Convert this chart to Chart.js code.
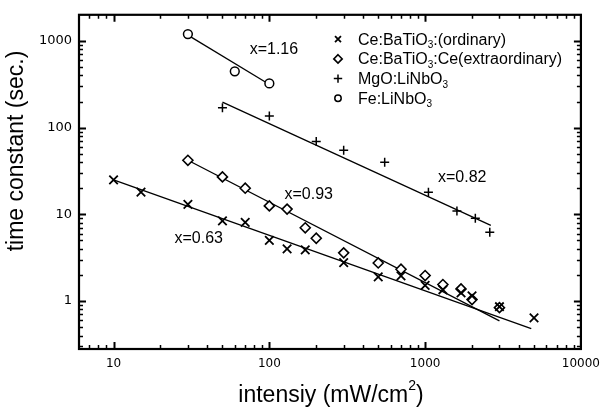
<!DOCTYPE html>
<html><head><meta charset="utf-8">
<script src="https://cdn.jsdelivr.net/npm/chart.js@4.4.0/dist/chart.umd.min.js"></script>
<style>html,body{margin:0;padding:0;background:#fff;}#wrap{width:608px;height:409px;position:relative;}</style>
</head><body><div id="wrap"><canvas id="c"></canvas></div>
<script>
// ---- data ----
const ordinaryX = [10, 15, 30, 50, 70, 100, 130, 170, 300, 500, 700, 1000, 1300, 1700, 2000, 3000, 5000];
const ordinaryY = [25, 18, 13, 8.4, 8.1, 5.0, 4.0, 3.9, 2.77, 1.9, 1.95, 1.52, 1.35, 1.24, 1.15, 0.86, 0.64];
const extraX = [30, 50, 70, 100, 130, 170, 200, 300, 500, 700, 1000, 1300, 1700, 2000, 3000];
const extraY = [42, 27, 20, 12.5, 11.5, 7.0, 5.3, 3.6, 2.75, 2.33, 1.97, 1.55, 1.38, 1.04, 0.84];
const mgoX = [50, 100, 200, 300, 550, 1050, 1600, 2100, 2600];
const mgoY = [169, 136, 69, 55, 40, 18, 10.9, 9.0, 6.2];
const feX = [30, 60, 100];
const feY = [1200, 446, 323];
// fitted lines (end points)
const fitOrdX = [10, 4800], fitOrdY = [25, 0.48];
const fitExtX = [30, 3000], fitExtY = [42, 0.59];
const fitMgoX = [50, 2640], fitMgoY = [197, 7.45];
const fitFeX = [30, 99], fitFeY = [1166, 318];
// tick labels
const xTickLabels = [10, 100, 1000, 10000];
const yTickLabels = [1, 10, 100, 1000];
// legend labels ("_3" = subscript 3)
const legendLabels = ['Ce:BaTiO_3:(ordinary)', 'Ce:BaTiO_3:Ce(extraordinary)', 'MgO:LiNbO_3', 'Fe:LiNbO_3'];
// slope annotations (text, anchored in data coordinates)
const annoText = ['x=1.16', 'x=0.82', 'x=0.93', 'x=0.63'];
const annoX = [107, 1730, 179, 35.2];
const annoY = [790, 26.4, 16.8, 5.28];

const FONT = '"Liberation Sans", Arial, Helvetica, sans-serif';
const pts = (xs, ys) => xs.map((x, i) => ({x: x, y: ys[i]}));
const isLabel = (v, arr) => arr.some(a => Math.abs(a - v) / a < 1e-6);

const markerStyles = [
  {pointStyle: 'crossRot', radius: 6, borderWidth: 1.8, fill: false},
  {pointStyle: 'rectRot', radius: 5, borderWidth: 1.6, fill: true},
  {pointStyle: 'cross', radius: 4.5, borderWidth: 1.5, fill: false},
  {pointStyle: 'circle', radius: 4.4, borderWidth: 1.5, fill: true}
];
const seriesData = [pts(ordinaryX, ordinaryY), pts(extraX, extraY), pts(mgoX, mgoY), pts(feX, feY)];
const fits = [pts(fitOrdX, fitOrdY), pts(fitExtX, fitExtY), pts(fitMgoX, fitMgoY), pts(fitFeX, fitFeY)];

const datasets = [];
seriesData.forEach((d, i) => {
  const m = markerStyles[i];
  datasets.push({label: legendLabels[i], data: d, showLine: false,
    pointStyle: m.pointStyle, pointRadius: m.radius, pointHoverRadius: m.radius,
    pointBorderWidth: m.borderWidth, pointBorderColor: '#000',
    pointBackgroundColor: m.fill ? '#fff' : '#000'});
});
fits.forEach(d => {
  datasets.push({label: '', data: d, showLine: true, pointRadius: 0, borderColor: '#000',
    borderWidth: 1.3, fill: false, tension: 0});
});

function drawMarker(ctx, m, x, y, r) {
  ctx.save();
  ctx.strokeStyle = '#000'; ctx.lineWidth = m.borderWidth; ctx.fillStyle = '#fff';
  ctx.beginPath();
  if (m.pointStyle === 'crossRot') {
    const o = r * Math.SQRT1_2;
    ctx.moveTo(x - o, y - o); ctx.lineTo(x + o, y + o);
    ctx.moveTo(x - o, y + o); ctx.lineTo(x + o, y - o); ctx.stroke();
  } else if (m.pointStyle === 'cross') {
    ctx.moveTo(x - r, y); ctx.lineTo(x + r, y);
    ctx.moveTo(x, y - r); ctx.lineTo(x, y + r); ctx.stroke();
  } else if (m.pointStyle === 'rectRot') {
    ctx.moveTo(x, y - r); ctx.lineTo(x + r, y); ctx.lineTo(x, y + r); ctx.lineTo(x - r, y); ctx.closePath();
    ctx.fill(); ctx.stroke();
  } else {
    ctx.arc(x, y, r, 0, Math.PI * 2); ctx.fill(); ctx.stroke();
  }
  ctx.restore();
}

function drawRichText(ctx, str, x, y, size, align) {
  // "_3" subscript, "^2" superscript
  const parts = [];
  let i = 0;
  while (i < str.length) {
    if ((str[i] === '_' || str[i] === '^') && i + 1 < str.length) {
      parts.push({t: str[i + 1], k: str[i]}); i += 2;
    } else {
      let j = i; while (j < str.length && str[j] !== '_' && str[j] !== '^') j++;
      parts.push({t: str.slice(i, j), k: ''}); i = j;
    }
  }
  const small = Math.round(size * 0.6);
  let total = 0;
  parts.forEach(p => { ctx.font = (p.k ? small : size) + 'px ' + FONT; p.w = ctx.measureText(p.t).width; total += p.w; });
  let cx = align === 'center' ? x - total / 2 : x;
  ctx.textAlign = 'left';
  parts.forEach(p => {
    ctx.font = (p.k ? small : size) + 'px ' + FONT;
    const dy = p.k === '_' ? size * 0.22 : (p.k === '^' ? -size * 0.42 : 0);
    ctx.fillText(p.t, cx, y + dy);
    cx += p.w;
  });
}

const decor = {
  id: 'decor',
  afterDraw(chart) {
    const ctx = chart.ctx, a = chart.chartArea, xs = chart.scales.x, ys = chart.scales.y;
    ctx.save();
    ctx.strokeStyle = '#000';
    // inward ticks
    const tickSet = (scale) => {
      const out = [];
      for (let k = -2; k <= 5; k++) for (let m = 1; m <= 9; m++) {
        const v = m * Math.pow(10, k);
        if (v > scale.min * 1.0001 && v < scale.max * 0.9999) out.push({v: v, major: m === 1});
      }
      return out;
    };
    tickSet(xs).forEach(t => {
      const px = Math.round(xs.getPixelForValue(t.v)) + 0.5, L = t.major ? 7 : 4;
      ctx.lineWidth = t.major ? 2 : 1.5;
      ctx.beginPath();
      ctx.moveTo(px, a.bottom); ctx.lineTo(px, a.bottom - L);
      ctx.moveTo(px, a.top); ctx.lineTo(px, a.top + L);
      ctx.stroke();
    });
    tickSet(ys).forEach(t => {
      const py = Math.round(ys.getPixelForValue(t.v)) + 0.5, L = t.major ? 7 : 4;
      ctx.lineWidth = t.major ? 2 : 1.5;
      ctx.beginPath();
      ctx.moveTo(a.left, py); ctx.lineTo(a.left + L, py);
      ctx.moveTo(a.right, py); ctx.lineTo(a.right - L, py);
      ctx.stroke();
    });
    // frame
    ctx.lineWidth = 2.2;
    ctx.strokeRect(a.left, a.top, a.right - a.left, a.bottom - a.top);
    // annotations
    ctx.fillStyle = '#000';
    ctx.textBaseline = 'middle'; ctx.textAlign = 'center';
    ctx.font = '16px ' + FONT;
    annoText.forEach((t, i) => {
      ctx.fillText(t, xs.getPixelForValue(annoX[i]), ys.getPixelForValue(annoY[i]));
    });
    // legend
    ctx.textBaseline = 'alphabetic';
    const lx = 338, tx = 358, base0 = 44.7, step = 19.7;
    legendLabels.forEach((lab, i) => {
      const by = base0 + i * step;
      const m = markerStyles[i];
      drawMarker(ctx, m, lx, by - 5.5, m.pointStyle === 'circle' ? 3.2 : 4.2);
      ctx.fillStyle = '#000';
      drawRichText(ctx, lab, tx, by, 16, 'left');
    });
    // axis titles
    ctx.textBaseline = 'middle';
    ctx.save();
    ctx.translate(17, 151); ctx.rotate(-Math.PI / 2);
    ctx.textAlign = 'center'; ctx.font = '23px ' + FONT;
    ctx.fillText('time constant (sec.)', 0, 0);
    ctx.restore();
    ctx.textBaseline = 'middle';
    drawRichText(ctx, 'intensiy (mW/cm^2)', 331, 396, 23, 'center');
    ctx.restore();
  }
};

new Chart(document.getElementById('c'), {
  type: 'scatter',
  data: {datasets: datasets},
  options: {
    responsive: true, maintainAspectRatio: false, animation: false,
    layout: {padding: {top: 8, right: 21, left: 0, bottom: 0}},
    plugins: {legend: {display: false}, tooltip: {enabled: false}},
    scales: {
      x: {type: 'logarithmic', min: 6, max: 10000, position: 'bottom',
        grid: {display: false, drawTicks: false}, border: {display: false},
        ticks: {autoSkip: false, maxRotation: 0, minRotation: 0, padding: 8, color: '#000',
          font: {family: 'DejaVu Sans', size: 12},
          callback: v => isLabel(v, xTickLabels) ? String(Math.round(v)) : ''},
        afterFit: s => { s.height = 60; }},
      y: {type: 'logarithmic', min: 0.28, max: 2000, position: 'left',
        grid: {display: false, drawTicks: false}, border: {display: false},
        ticks: {autoSkip: false, padding: 7, color: '#000',
          font: {family: 'DejaVu Sans', size: 13},
          callback: v => isLabel(v, yTickLabels) ? String(Math.round(v)) : ''},
        afterFit: s => { s.width = 79; }}
    }
  },
  plugins: [decor]
});
</script></body></html>
